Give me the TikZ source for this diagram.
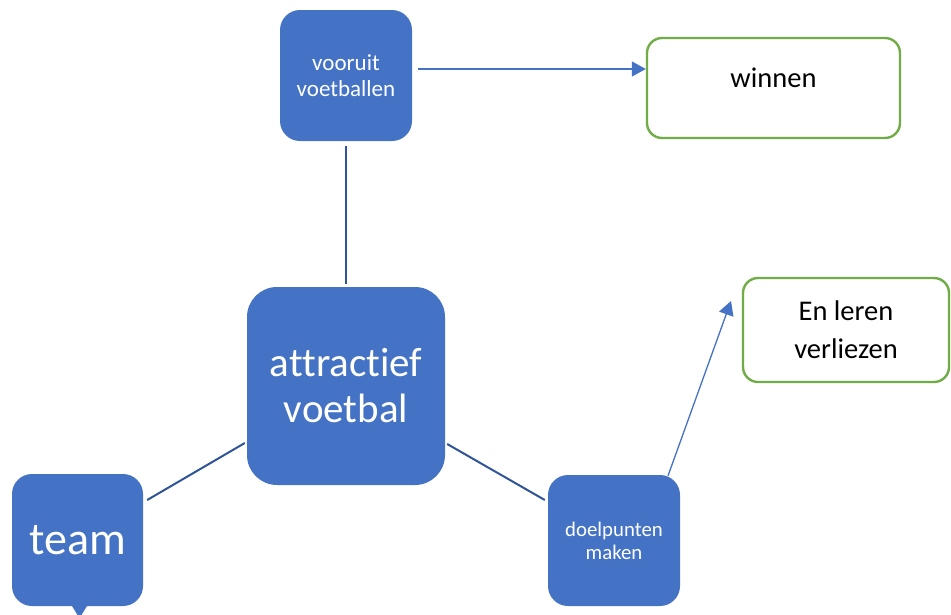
\documentclass[tikz,border=0pt]{standalone}
\usepackage{fontspec}
\setmainfont{Carlito}[Ligatures=NoCommon]
\usetikzlibrary{arrows.meta}
\definecolor{boxblue}{HTML}{4472C4}
\definecolor{linkblue}{HTML}{2F5597}
\definecolor{boxgreen}{HTML}{70AD47}
\begin{document}
\begin{tikzpicture}[x=1pt,y=-1pt,
  bluebox/.style={fill=boxblue, draw=none, rounded corners=#1, text=white, align=center, inner sep=0pt},
  greenbox/.style={fill=white, draw=boxgreen, line width=2.4pt, rounded corners=15pt, text=black, align=center, inner sep=0pt, minimum width=253pt, minimum height=100pt},
  link/.style={draw=linkblue, line width=2pt},
  arrowlink/.style={draw=boxblue, line width=1.3pt, -{Triangle[length=14pt,width=15pt]}}]
\useasboundingbox (0,0) rectangle (951,614);

\node[bluebox=20pt, minimum width=132pt, minimum height=131pt, font=\fontsize{23}{26}\selectfont] (vv) at (346,75.5) {vooruit\\voetballen};
\node[bluebox=30pt, minimum width=198pt, minimum height=198pt, font=\fontsize{41}{46}\selectfont] (at) at (346,386) {attractief\\voetbal};
\node[bluebox=20pt, minimum width=131pt, minimum height=132pt, font=\fontsize{46}{50}\selectfont] (team) at (77.5,540) {team};
\node[bluebox=20pt, minimum width=132pt, minimum height=131pt, font=\fontsize{20.8}{23}\selectfont] (dp) at (614,540.5) {doelpunten\\maken};
\fill[boxblue] ([xshift=-6pt,yshift=1pt]team.south) -- ([xshift=10pt,yshift=1pt]team.south) -- ([xshift=2pt,yshift=-12pt]team.south) -- cycle;

\node[greenbox, font=\fontsize{28.5}{32}\selectfont] (win) at (773.5,88) {\raisebox{0.5pt}[0pt][0pt]{winnen}};
\node[greenbox, minimum width=206pt, minimum height=104pt, font=\fontsize{28.5}{38}\selectfont] (ver) at (846,330) {En leren\\verliezen};

\coordinate (tipver) at (731,301);

\draw[link] ([yshift=-5pt]vv.south) -- ([yshift=3pt]at.north);
\draw[link] ([xshift=4pt,yshift=40pt]team.east) -- ([xshift=-2pt,yshift=-57pt]at.west);
\draw[link] ([xshift=2pt,yshift=-58pt]at.east) -- ([xshift=-3pt,yshift=40.5pt]dp.west);

\draw[arrowlink] ([xshift=6pt,yshift=6.5pt]vv.east) -- ([yshift=6.5pt]vv.east -| win.west);
\draw[arrowlink] ([xshift=54pt,yshift=-1pt]dp.north) -- (tipver);
\end{tikzpicture}
\end{document}
